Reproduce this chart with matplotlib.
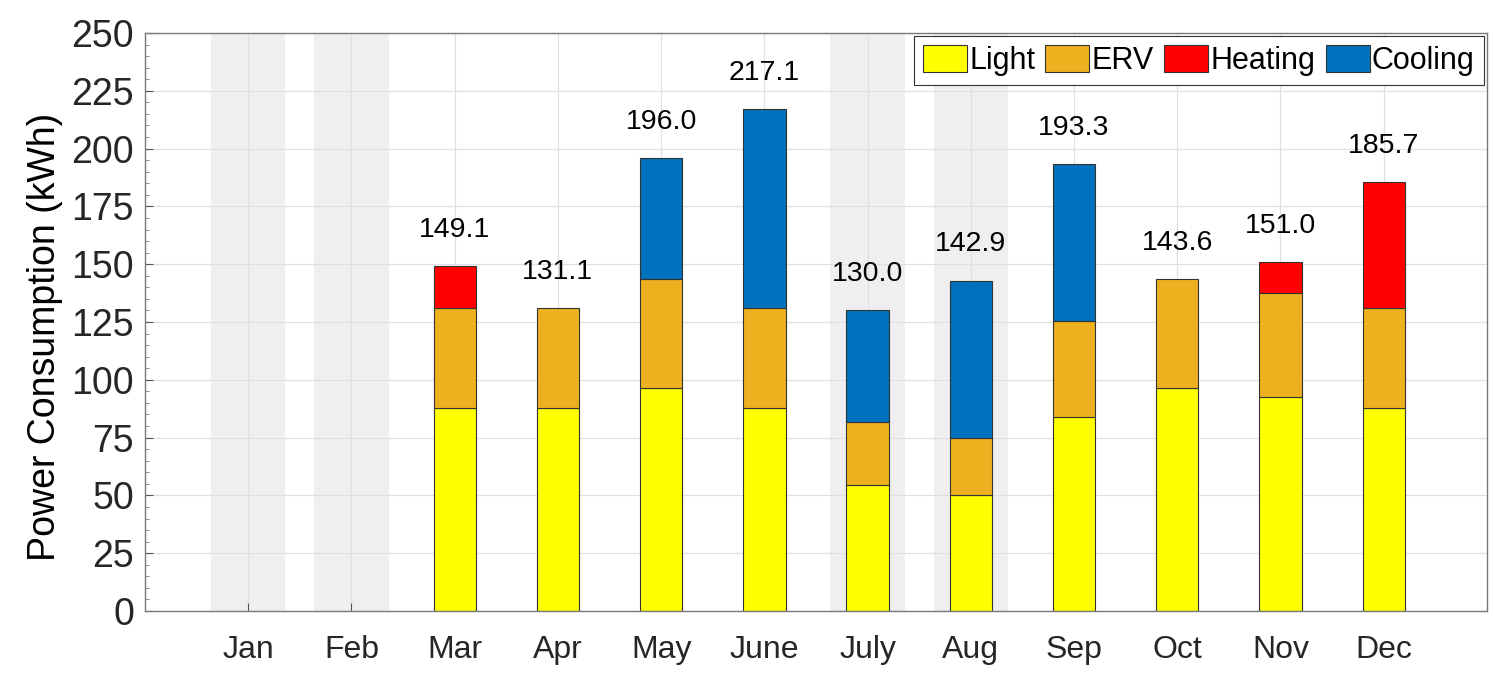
import numpy as np
import matplotlib.pyplot as plt
from matplotlib.ticker import MultipleLocator

plt.rcParams['font.family'] = ['Liberation Sans', 'DejaVu Sans']

months = ['Jan', 'Feb', 'Mar', 'Apr', 'May', 'June', 'July', 'Aug', 'Sep', 'Oct', 'Nov', 'Dec']
light = [0, 0, 88.0, 88.0, 96.5, 88.0, 54.4, 50.0, 83.8, 96.5, 92.7, 88.0]
erv = [0, 0, 43.1, 43.1, 47.1, 43.1, 27.3, 25.0, 41.6, 47.1, 44.9, 43.1]
heating = [0, 0, 18.0, 0, 0, 0, 0, 0, 0, 0, 13.4, 54.6]
cooling = [0, 0, 0, 0, 52.4, 86.0, 48.3, 67.9, 67.9, 0, 0, 0]
shaded_months = ['Jan', 'Feb', 'July', 'Aug']

series = [('Light', light, '#FFFF00'),
          ('ERV', erv, '#EDB120'),
          ('Heating', heating, '#FF0000'),
          ('Cooling', cooling, '#0072BD')]

x = np.arange(1, len(months) + 1)
width = 0.41

fig = plt.figure(figsize=(14.95, 6.8), dpi=100)
ax = fig.add_axes([0.097, 0.1015, 0.8976, 0.85])

for m in shaded_months:
    i = months.index(m) + 1
    ax.axvspan(i - 0.36, i + 0.36, color='#efefef', zorder=0.1, lw=0)

bottom = np.zeros(len(months))
for name, vals, color in series:
    vals = np.array(vals, dtype=float)
    keep = vals > 0
    ax.bar(x[keep], vals[keep], width, bottom=bottom[keep], color=color,
           edgecolor='#333333', linewidth=0.8, label=name, zorder=2)
    bottom += vals

for xi, total in zip(x, bottom):
    if total > 0:
        ax.text(xi, total + 10, f'{total:.1f}', ha='center', va='bottom',
                fontsize=20.5, color='black')

ax.set_xlim(0, 13)
ax.set_ylim(0, 250)
ax.set_xticks(x)
ax.set_xticklabels(months)
ax.yaxis.set_major_locator(MultipleLocator(25))
ax.yaxis.set_minor_locator(MultipleLocator(5))
ax.set_axisbelow(True)
ax.grid(True, which='major', color='#e0e0e0', linewidth=0.9)

ax.tick_params(axis='y', which='major', direction='in', length=6, labelsize=27,
               labelcolor='#262626', color='#555555', pad=8)
ax.tick_params(axis='y', which='minor', direction='in', length=3, color='#777777')
ax.tick_params(axis='x', direction='in', length=6, labelsize=23,
               labelcolor='#262626', color='#555555', pad=17)
for sp in ax.spines.values():
    sp.set_color('#7a7a7a')
    sp.set_linewidth(1.0)

ax.set_ylabel('Power Consumption (kWh)', fontsize=27, color='black')
ax.yaxis.set_label_coords(-0.061, 0.474)

leg = ax.legend(loc='upper right', ncol=4, fontsize=22, frameon=True, fancybox=False,
                edgecolor='#333333', framealpha=1, handlelength=1.44, handleheight=0.95,
                handletextpad=0.08, columnspacing=0.33, borderpad=0.3, borderaxespad=0.1)
leg.get_frame().set_linewidth(0.8)

fig.savefig('out.png', dpi=100)
